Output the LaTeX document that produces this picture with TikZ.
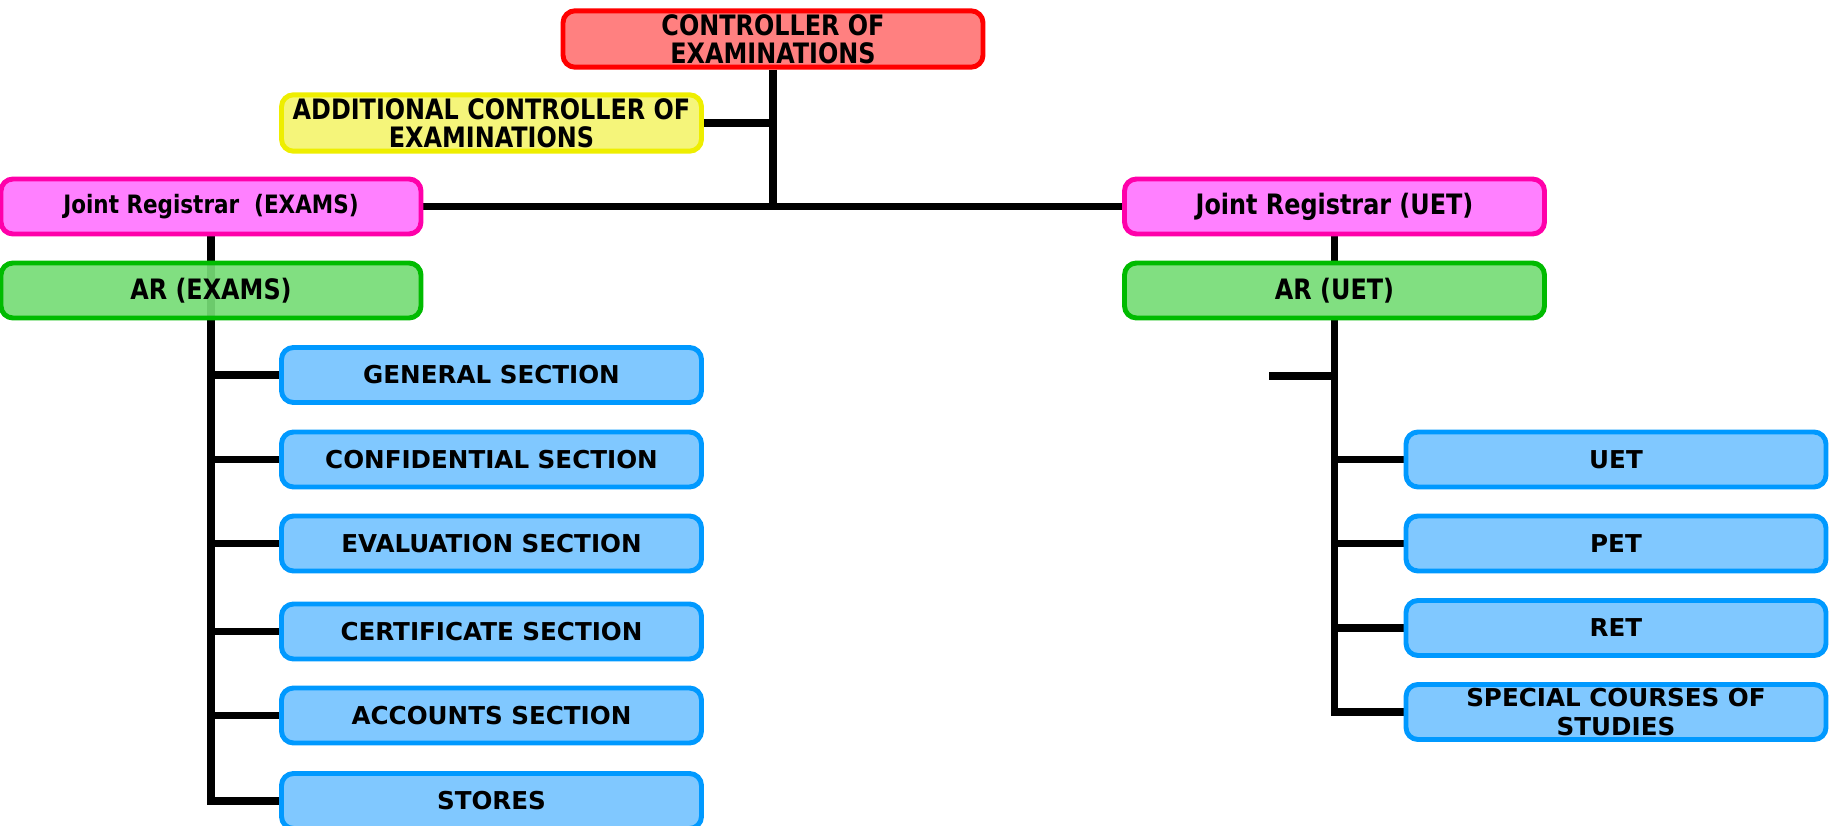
\documentclass[tikz,border=0pt]{standalone}
\usepackage{fontspec}
\setmainfont{DejaVu Sans}
\newfontfamily\narrowfont[FakeStretch=0.85]{DejaVu Sans}
\pgfdeclarelayer{bg}
\pgfsetlayers{bg,main}
\definecolor{ctrlfill}{HTML}{FF8080}
\definecolor{ctrlline}{HTML}{FF0000}
\definecolor{addlfill}{HTML}{F5F57A}
\definecolor{addlline}{HTML}{EEEE00}
\definecolor{jrfill}{HTML}{FF80FF}
\definecolor{jrline}{HTML}{FF00AA}
\definecolor{arfill}{HTML}{76DC76}
\definecolor{arline}{HTML}{00BB00}
\definecolor{secfill}{HTML}{80C8FF}
\definecolor{secline}{HTML}{0099FF}

\begin{document}
\begin{tikzpicture}[
  box/.style={draw, rounded corners=1.2mm, line width=1.4pt, minimum width=4.2cm,
    minimum height=0.55cm, align=center, inner sep=1pt},
  headbox/.style={box, font=\narrowfont\fontsize{8}{8}\selectfont\bfseries},
  arbox/.style={headbox, draw=arline, fill=arfill, fill opacity=0.92, text opacity=1},
  secbox/.style={box, draw=secline, fill=secfill, font=\fontsize{7}{8}\selectfont\bfseries},
  link/.style={line width=2pt}
]
  \useasboundingbox (0,0) rectangle (18.35,8.25);

  \node[headbox, draw=ctrlline, fill=ctrlfill] (ctrl) at (7.73, 7.86) {CONTROLLER OF\\EXAMINATIONS};
  \node[headbox, draw=addlline, fill=addlfill] (addl) at (4.915, 7.02) {ADDITIONAL CONTROLLER OF\\EXAMINATIONS};
  \node[headbox, draw=jrline, fill=jrfill, font=\narrowfont\fontsize{7.2}{8}\selectfont\bfseries] (jre) at (2.11, 6.185) {Joint Registrar~~(EXAMS)};
  \node[headbox, draw=jrline, fill=jrfill] (jru) at (13.345, 6.185) {Joint Registrar (UET)};
  \node[arbox] (are) at (2.11, 5.345) {AR (EXAMS)};
  \node[arbox] (aru) at (13.345, 5.345) {AR (UET)};

  \node[secbox] (gen) at (4.915, 4.50) {GENERAL SECTION};
  \node[secbox] (conf) at (4.915, 3.655) {CONFIDENTIAL SECTION};
  \node[secbox] (eval) at (4.915, 2.815) {EVALUATION SECTION};
  \node[secbox] (cert) at (4.915, 1.935) {CERTIFICATE SECTION};
  \node[secbox] (acct) at (4.915, 1.095) {ACCOUNTS SECTION};
  \node[secbox] (stores) at (4.915, 0.24) {STORES};

  \node[secbox] (uet) at (16.16, 3.655) {UET};
  \node[secbox] (pet) at (16.16, 2.815) {PET};
  \node[secbox] (ret) at (16.16, 1.97) {RET};
  \node[secbox] (scs) at (16.16, 1.13) {SPECIAL COURSES OF\\STUDIES};

  \coordinate (stub) at (12.69, 4.49);

  \begin{pgfonlayer}{bg}
    \draw[link] (ctrl.south) -- (ctrl.south |- jre.east);
    \draw[link] (addl.east) -- (addl.east -| ctrl.south);
    \draw[link] (jre.east) -- (jru.west);

    \draw[link] (jre.south) |- (gen.west);
    \draw[link] (jre.south) |- (conf.west);
    \draw[link] (jre.south) |- (eval.west);
    \draw[link] (jre.south) |- (cert.west);
    \draw[link] (jre.south) |- (acct.west);
    \draw[link] (jre.south) |- (stores.west);

    \draw[link] (jru.south) -- (aru.north);
    \draw[link] (aru.south) |- (uet.west);
    \draw[link] (aru.south) |- (pet.west);
    \draw[link] (aru.south) |- (ret.west);
    \draw[link] (aru.south) |- (scs.west);
    \draw[link] (stub) -- (stub -| aru.south);
  \end{pgfonlayer}
\end{tikzpicture}
\end{document}
